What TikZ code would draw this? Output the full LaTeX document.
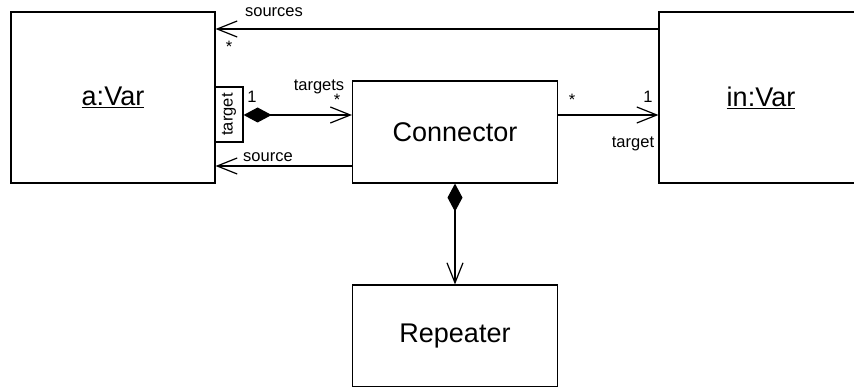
\documentclass[tikz,border=0pt]{standalone}
\usepackage{fontspec}
\setmainfont{Liberation Sans}
\usetikzlibrary{arrows.meta}
\begin{document}
\begin{tikzpicture}[x=1pt,y=-1pt,
  box/.style={draw,line width=1.2pt,rectangle,inner sep=0pt,font=\fontsize{27}{30}\selectfont},
  lbl/.style={inner sep=0pt,font=\fontsize{16.5}{18}\selectfont},
  conn/.style={line width=1.2pt},
  openarr/.style={-{Straight Barb[length=20pt,width=16pt,line width=1.2pt]}},
  compo/.style={{Diamond[length=28pt,width=15pt,fill=black]}-{Straight Barb[length=20pt,width=16pt,line width=1.2pt]}}]
\useasboundingbox (0,0) rectangle (854,387);
\clip (0,0) rectangle (854,387);
\node[box,minimum width=204pt,minimum height=171pt] (aVar) at (113,97.5) {\underline{a:Var}};
\node[box,minimum width=205pt,minimum height=102pt] (cn) at (455,132) {Connector};
\node[box,minimum width=204pt,minimum height=171pt] (inVar) at (761,97.5) {\underline{in:Var}};
\node[box,minimum width=205pt,minimum height=102pt] (rep) at (455,336) {Repeater};
\node[draw,line width=1.2pt,minimum width=28pt,minimum height=55pt,inner sep=0pt] (qual) at (229,114.5) {};
\node[lbl,rotate=90] (qualt) at (qual.center) {target};
\coordinate (ys) at (0,29);
\coordinate (yt) at (0,115);
\coordinate (yso) at (0,166);
\draw[conn,openarr] (inVar.west |- ys) -- (aVar.east |- ys);
\draw[conn,compo] (qual.east |- yt) -- (cn.west |- yt);
\draw[conn,openarr] (cn.west |- yso) -- (aVar.east |- yso);
\draw[conn,openarr] (cn.east |- yt) -- (inVar.west |- yt);
\draw[conn,compo] (cn.south) -- (rep.north);
\node[lbl] (l1) at (274,12) {sources};
\node[lbl] (l2) at (229,47) {*};
\node[lbl] (l3) at (252,97) {1};
\node[lbl] (l4) at (319,87) {targets};
\node[lbl] (l5) at (337,100) {*};
\node[lbl] (l6) at (268,157) {source};
\node[lbl] (l7) at (572,100) {*};
\node[lbl] (l8) at (648,97) {1};
\node[lbl] (l9) at (633,144) {target};
\end{tikzpicture}
\end{document}
